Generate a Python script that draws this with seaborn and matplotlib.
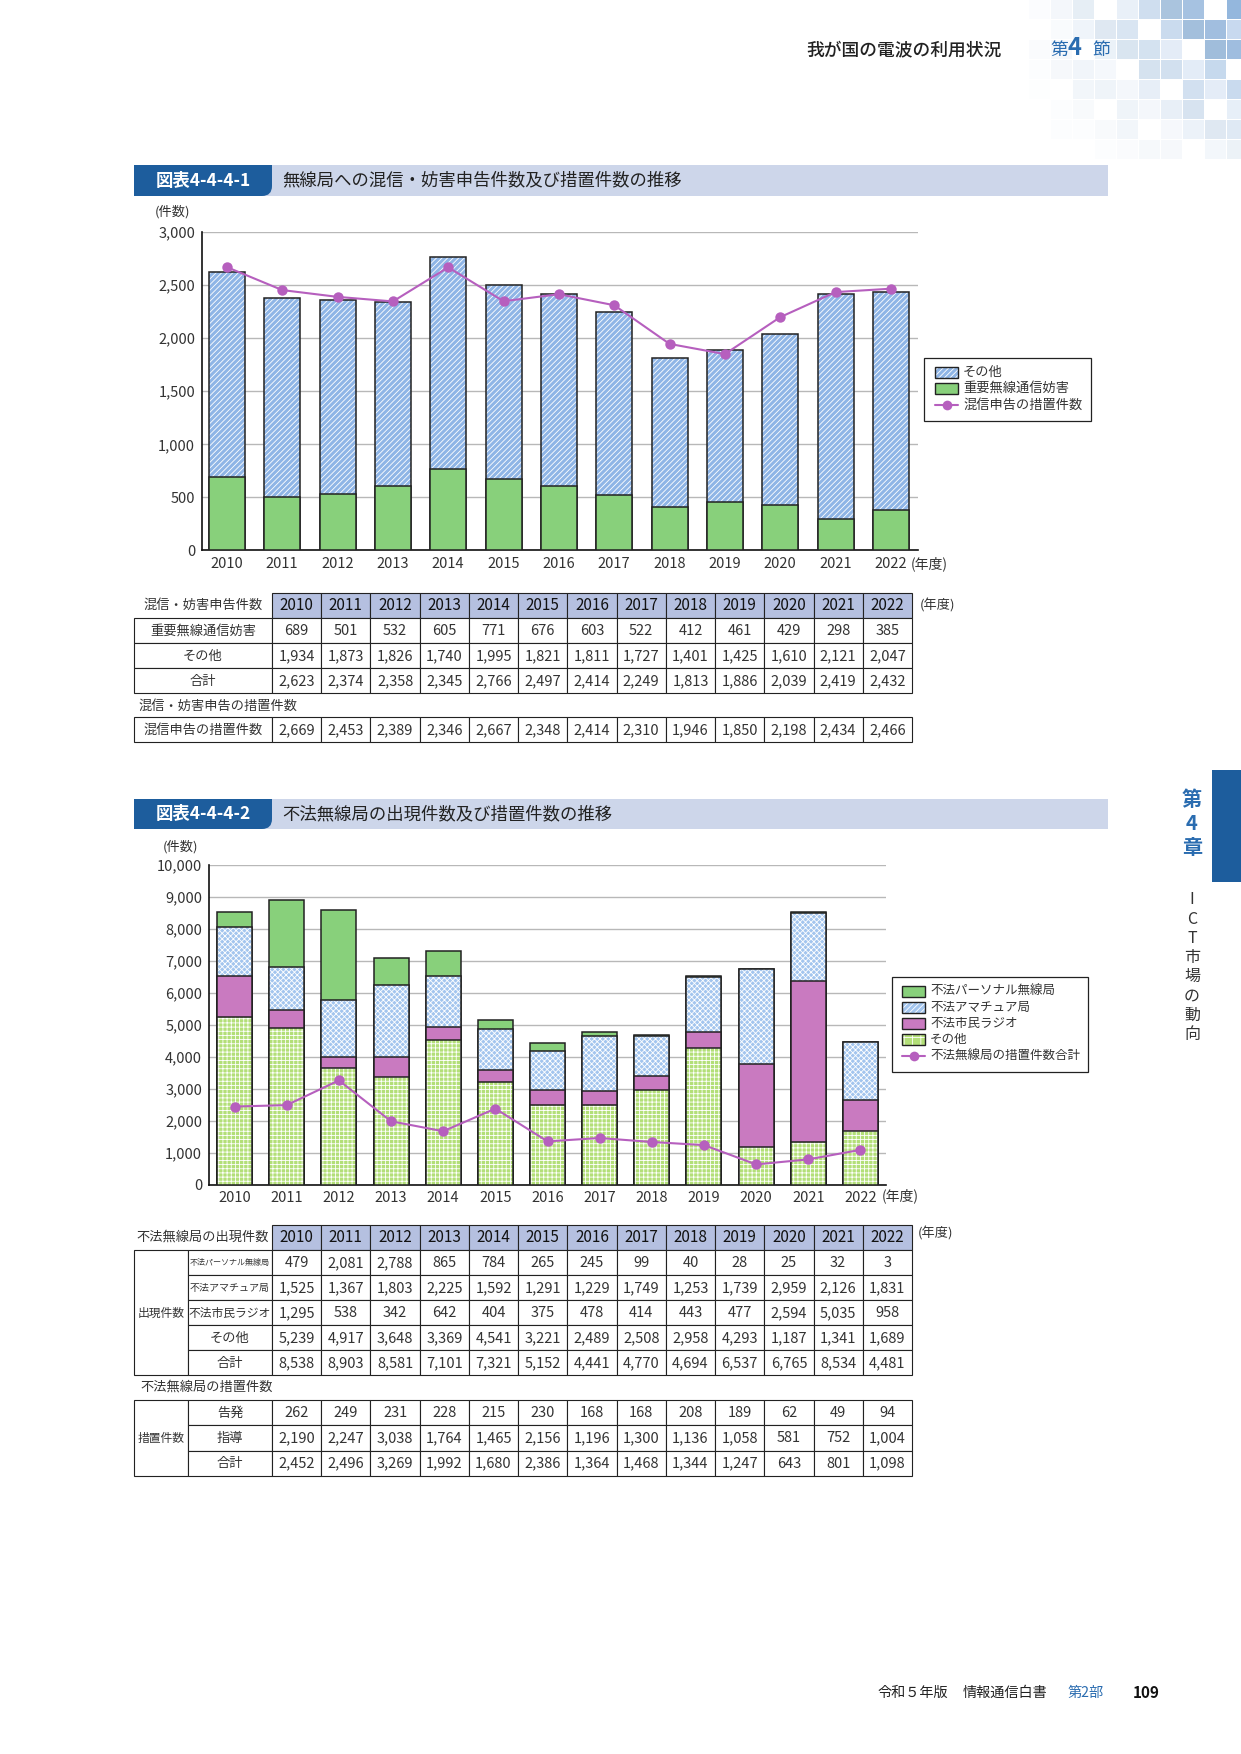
import numpy as np
import matplotlib
matplotlib.use('Agg')
import matplotlib.pyplot as plt
import seaborn as sns
from matplotlib.patches import Rectangle, FancyBboxPatch
from matplotlib.lines import Line2D

W, H = 1241, 1754

years = [str(y) for y in range(2010, 2023)]

# 図表4-4-4-1 混信・妨害申告件数
critical_interf = [689, 501, 532, 605, 771, 676, 603, 522, 412, 461, 429, 298, 385]
other_interf = [1934, 1873, 1826, 1740, 1995, 1821, 1811, 1727, 1401, 1425, 1610, 2121, 2047]
total_interf = [2623, 2374, 2358, 2345, 2766, 2497, 2414, 2249, 1813, 1886, 2039, 2419, 2432]
interf_measures = [2669, 2453, 2389, 2346, 2667, 2348, 2414, 2310, 1946, 1850, 2198, 2434, 2466]

# 図表4-4-4-2 不法無線局
illegal_personal = [479, 2081, 2788, 865, 784, 265, 245, 99, 40, 28, 25, 32, 3]
illegal_amateur = [1525, 1367, 1803, 2225, 1592, 1291, 1229, 1749, 1253, 1739, 2959, 2126, 1831]
illegal_cb = [1295, 538, 342, 642, 404, 375, 478, 414, 443, 477, 2594, 5035, 958]
illegal_other = [5239, 4917, 3648, 3369, 4541, 3221, 2489, 2508, 2958, 4293, 1187, 1341, 1689]
illegal_total = [8538, 8903, 8581, 7101, 7321, 5152, 4441, 4770, 4694, 6537, 6765, 8534, 4481]
prosecuted = [262, 249, 231, 228, 215, 230, 168, 168, 208, 189, 62, 49, 94]
guidance = [2190, 2247, 3038, 1764, 1465, 2156, 1196, 1300, 1136, 1058, 581, 752, 1004]
measures_total = [2452, 2496, 3269, 1992, 1680, 2386, 1364, 1468, 1344, 1247, 643, 801, 1098]

GREEN = '#88d07b'
BLUE = '#8fb5e6'
BLUE2 = '#a3c5ee'
MAGENTA = '#c97ac0'
LIME = '#b3df78'
LINE = '#b65fbe'
EDGE = '#222222'
NAVY = '#1d5d9d'
TEXT = '#333333'

sns.set_style('white')
plt.rcParams['font.family'] = ['Noto Sans CJK JP', 'DejaVu Sans']
plt.rcParams['hatch.linewidth'] = 0.6

fig = plt.figure(figsize=(12.41, 17.54), dpi=100)
bg = fig.add_axes([0, 0, 1, 1], zorder=0)
bg.set_xlim(0, W)
bg.set_ylim(H, 0)
bg.axis('off')


def px_axes(x0, y0, x1, y1):
    a = fig.add_axes([x0 / W, 1 - y1 / H, (x1 - x0) / W, (y1 - y0) / H], zorder=2)
    a.set_facecolor('none')
    return a


def layer(ax, values, color, hatch=None, width=0.65):
    n0 = len(ax.patches)
    sns.barplot(x=years, y=values, color=color, saturation=1, width=width,
                errorbar=None, ax=ax, zorder=3)
    for p in ax.patches[n0:]:
        if hatch:
            p.set_hatch(hatch)
            p.set_edgecolor('white')
            p.set_linewidth(0)
        else:
            p.set_edgecolor('none')
    n1 = len(ax.patches)
    sns.barplot(x=years, y=values, color=EDGE, fill=False, width=width,
                errorbar=None, ax=ax, zorder=3)
    for p in ax.patches[n1:]:
        p.set_facecolor('none')
        p.set_edgecolor(EDGE)
        p.set_linewidth(1.1)


def style_axes(ax, ymax, step, xlim, ypad, xpad):
    ax.set_ylim(0, ymax)
    ax.set_xlim(*xlim)
    ax.set_yticks(range(0, ymax + 1, step))
    ax.set_yticklabels([f'{v:,}' for v in range(0, ymax + 1, step)])
    ax.set_xticks(range(len(years)))
    ax.set_xticklabels(years)
    ax.set_xlabel('')
    ax.set_ylabel('')
    ax.yaxis.grid(True, color='#b8b8b8', lw=1)
    ax.xaxis.grid(False)
    ax.set_axisbelow(True)
    for s in ['top', 'right']:
        ax.spines[s].set_visible(False)
    for s in ['left', 'bottom']:
        ax.spines[s].set_color('#111')
        ax.spines[s].set_linewidth(1.2)
    ax.tick_params(axis='y', length=0, labelsize=10.5, labelcolor=TEXT, pad=ypad)
    ax.tick_params(axis='x', length=0, labelsize=10.5, labelcolor=TEXT, pad=xpad)


def swatch(x0, y, color, hatch=None):
    bg.add_patch(Rectangle((x0, y - 5.5), 23, 11, facecolor=color, edgecolor='none', lw=0))
    if hatch:
        bg.add_patch(Rectangle((x0, y - 5.5), 23, 11, facecolor='none', edgecolor='white',
                               lw=0, hatch=hatch))
    bg.add_patch(Rectangle((x0, y - 5.5), 23, 11, facecolor='none', edgecolor=EDGE, lw=1))


def line_swatch(x0, y):
    bg.add_line(Line2D([x0, x0 + 23], [y, y], color=LINE, lw=1.5))
    bg.add_line(Line2D([x0 + 11.5], [y], color=LINE, marker='o', ms=7, mew=0))


def title_bar(y0, y1, label, title):
    bg.add_patch(Rectangle((134, y0), 1108 - 134, y1 - y0, facecolor='#cdd6ea', edgecolor='none'))
    bg.add_patch(FancyBboxPatch((134, y0), 138, y1 - y0, boxstyle='round,pad=0,rounding_size=10',
                                facecolor=NAVY, edgecolor='none'))
    bg.add_patch(Rectangle((134, y0), 120, y1 - y0, facecolor=NAVY, edgecolor='none'))
    bg.add_patch(Rectangle((134, y0), 138, (y1 - y0) / 2, facecolor=NAVY, edgecolor='none'))
    bg.text(203, (y0 + y1) / 2, label, ha='center', va='center', fontsize=12.5,
            color='white', weight='bold')
    bg.text(282, (y0 + y1) / 2, title, ha='left', va='center', fontsize=12.5, color='#222')


def cell(x0, y0, x1, y1, text='', fill='white', size=10.5, color=TEXT, border=True):
    bg.add_patch(Rectangle((x0, y0), x1 - x0, y1 - y0, facecolor=fill,
                           edgecolor=EDGE if border else 'none', lw=0.8))
    if text:
        bg.text((x0 + x1) / 2, (y0 + y1) / 2 + 0.5, text, ha='center', va='center',
                fontsize=size, color=color)


COL0 = 272
COLW = (912 - 272) / 13


def year_cells(y0, y1, values, header=False):
    for i, v in enumerate(values):
        x0 = COL0 + i * COLW
        if header:
            cell(x0, y0, x0 + COLW, y1, v, fill='#b5c0e0', size=11, color='#111')
        else:
            cell(x0, y0, x0 + COLW, y1, f'{v:,}', size=10.5)


# ---------------- page header / decoration ----------------
pal = ['#2f6fb0', '#6b9bd0', '#a8c4e6', '#4f86c4']
for i in range(12):
    for j in range(8):
        x = 985 + i * 22
        y = j * 20
        t = ((x - 985) / 256) ** 1.8 * (1 - y / 160)
        if t <= 0.02 or (i * 7 + j * 11) % 5 == 0:
            continue
        bg.add_patch(Rectangle((x, y), 21, 19, facecolor=pal[(i * 3 + j * 5) % 4],
                               edgecolor='none', alpha=min(0.8, t * 0.8)))
bg.text(806, 50, '我が国の電波の利用状況', ha='left', va='center', fontsize=12.8,
        color='#222', weight='medium')
bg.text(1050, 50, '第', ha='left', va='center', fontsize=12.8, color='#2a6cb0')
bg.text(1068, 48, '4', ha='left', va='center', fontsize=17, color='#2a6cb0', weight='bold')
bg.text(1092, 50, '節', ha='left', va='center', fontsize=12.8, color='#2a6cb0')

# side tab
bg.add_patch(Rectangle((1212, 770), 29, 112, facecolor=NAVY, edgecolor='none'))
for k, ch in enumerate('第4章'):
    bg.text(1192, 800 + k * 24, ch, ha='center', va='center', fontsize=14.5,
            color='#2a6cb0', weight='bold')
for k, ch in enumerate('ICT市場の動向'):
    bg.text(1192, 900 + k * 19.2, ch, ha='center', va='center', fontsize=11.5, color='#333')

# footer
bg.text(877, 1693, '令和５年版', ha='left', va='center', fontsize=10.2, color='#222')
bg.text(963, 1693, '情報通信白書', ha='left', va='center', fontsize=10.2, color='#222')
bg.text(1067, 1693, '第2部', ha='left', va='center', fontsize=10.2, color='#2a6cb0')
bg.text(1133, 1693, '109', ha='left', va='center', fontsize=11, color='#111', weight='bold')

# ---------------- chart 1 ----------------
title_bar(165, 196, '図表4-4-4-1', '無線局への混信・妨害申告件数及び措置件数の推移')
ax1 = px_axes(202, 232, 918, 550.5)
layer(ax1, total_interf, BLUE, hatch='//////')
layer(ax1, critical_interf, GREEN)
sns.lineplot(x=years, y=interf_measures, color=LINE, marker='o', markersize=7.5,
             markeredgewidth=0, lw=1.5, sort=False, ax=ax1, zorder=5)
style_axes(ax1, 3000, 500, (-0.45, 12.49), 5, 5)
bg.text(172, 212, '(件数)', ha='center', va='center', fontsize=9.5, color=TEXT)
bg.text(911, 564, '(年度)', ha='left', va='center', fontsize=10, color=TEXT)

bg.add_patch(Rectangle((924, 358), 167, 63, facecolor='white', edgecolor=EDGE, lw=0.9))
swatch(935, 372, BLUE, '//////')
bg.text(963, 372, 'その他', ha='left', va='center', fontsize=9.5, color=TEXT)
swatch(935, 388.5, GREEN)
bg.text(963, 388.5, '重要無線通信妨害', ha='left', va='center', fontsize=9.5, color=TEXT)
line_swatch(935, 405)
bg.text(963, 405, '混信申告の措置件数', ha='left', va='center', fontsize=9.5, color=TEXT)

# table 1
bg.text(203, 605.5, '混信・妨害申告件数', ha='center', va='center', fontsize=9.5, color=TEXT)
year_cells(593, 618, years, header=True)
bg.text(920, 605.5, '(年度)', ha='left', va='center', fontsize=9.5, color=TEXT)
rows1 = [('重要無線通信妨害', critical_interf), ('その他', other_interf), ('合計', total_interf)]
for r, (lab, vals) in enumerate(rows1):
    y0 = 618 + r * 25
    cell(134, y0, COL0, y0 + 25, lab, size=9.5)
    year_cells(y0, y0 + 25, vals)
bg.text(138, 706, '混信・妨害申告の措置件数', ha='left', va='center', fontsize=9.5, color=TEXT)
cell(134, 717, COL0, 742, '混信申告の措置件数', size=9.5)
year_cells(717, 742, interf_measures)

# ---------------- chart 2 ----------------
title_bar(799, 829, '図表4-4-4-2', '不法無線局の出現件数及び措置件数の推移')
ax2 = px_axes(209, 865, 886, 1185)
cum_cb = np.array(illegal_other) + np.array(illegal_cb)
cum_am = cum_cb + np.array(illegal_amateur)
layer(ax2, illegal_total, GREEN, width=0.67)
layer(ax2, cum_am, BLUE2, hatch='xxxxxx', width=0.67)
layer(ax2, cum_cb, MAGENTA, width=0.67)
layer(ax2, illegal_other, LIME, hatch='++++', width=0.67)
sns.lineplot(x=years, y=measures_total, color=LINE, marker='o', markersize=7.5,
             markeredgewidth=0, lw=1.5, sort=False, ax=ax2, zorder=5)
style_axes(ax2, 10000, 1000, (-0.49, 12.49), 5, 4)
bg.text(181, 847, '(件数)', ha='center', va='center', fontsize=9.5, color=TEXT)
bg.text(882, 1196, '(年度)', ha='left', va='center', fontsize=10, color=TEXT)

bg.add_patch(Rectangle((892, 977), 196, 95, facecolor='white', edgecolor=EDGE, lw=0.9))
leg2 = [('不法パーソナル無線局', GREEN, None), ('不法アマチュア局', BLUE2, '//////'),
        ('不法市民ラジオ', MAGENTA, None), ('その他', LIME, '++')]
for k, (lab, col, hat) in enumerate(leg2):
    yy = 991 + k * 16.2
    swatch(902, yy, col, hat)
    bg.text(930, yy, lab, ha='left', va='center', fontsize=9, color=TEXT)
line_swatch(902, 1056)
bg.text(930, 1056, '不法無線局の措置件数合計', ha='left', va='center', fontsize=9, color=TEXT)

# table 2
bg.text(203, 1237.5, '不法無線局の出現件数', ha='center', va='center', fontsize=9.5, color=TEXT)
year_cells(1225, 1250, years, header=True)
bg.text(918, 1234, '(年度)', ha='left', va='center', fontsize=9.5, color=TEXT)
rows2 = [('不法パーソナル無線局', illegal_personal, 5.8), ('不法アマチュア局', illegal_amateur, 7.2),
         ('不法市民ラジオ', illegal_cb, 8.5), ('その他', illegal_other, 9.5),
         ('合計', illegal_total, 9.5)]
cell(134, 1250, 188, 1250 + 25 * len(rows2), '出現件数', size=8.5)
for r, (lab, vals, fs) in enumerate(rows2):
    y0 = 1250 + r * 25
    cell(188, y0, COL0, y0 + 25, lab, size=fs)
    year_cells(y0, y0 + 25, vals)

bg.text(140, 1387, '不法無線局の措置件数', ha='left', va='center', fontsize=9.5, color=TEXT)
rows3 = [('告発', prosecuted), ('指導', guidance), ('合計', measures_total)]
cell(134, 1400, 188, 1400 + 25.3 * len(rows3), '措置件数', size=8.5)
for r, (lab, vals) in enumerate(rows3):
    y0 = 1400 + r * 25.3
    cell(188, y0, COL0, y0 + 25.3, lab, size=9.5)
    year_cells(y0, y0 + 25.3, vals)

fig.savefig('out.png', dpi=100)
